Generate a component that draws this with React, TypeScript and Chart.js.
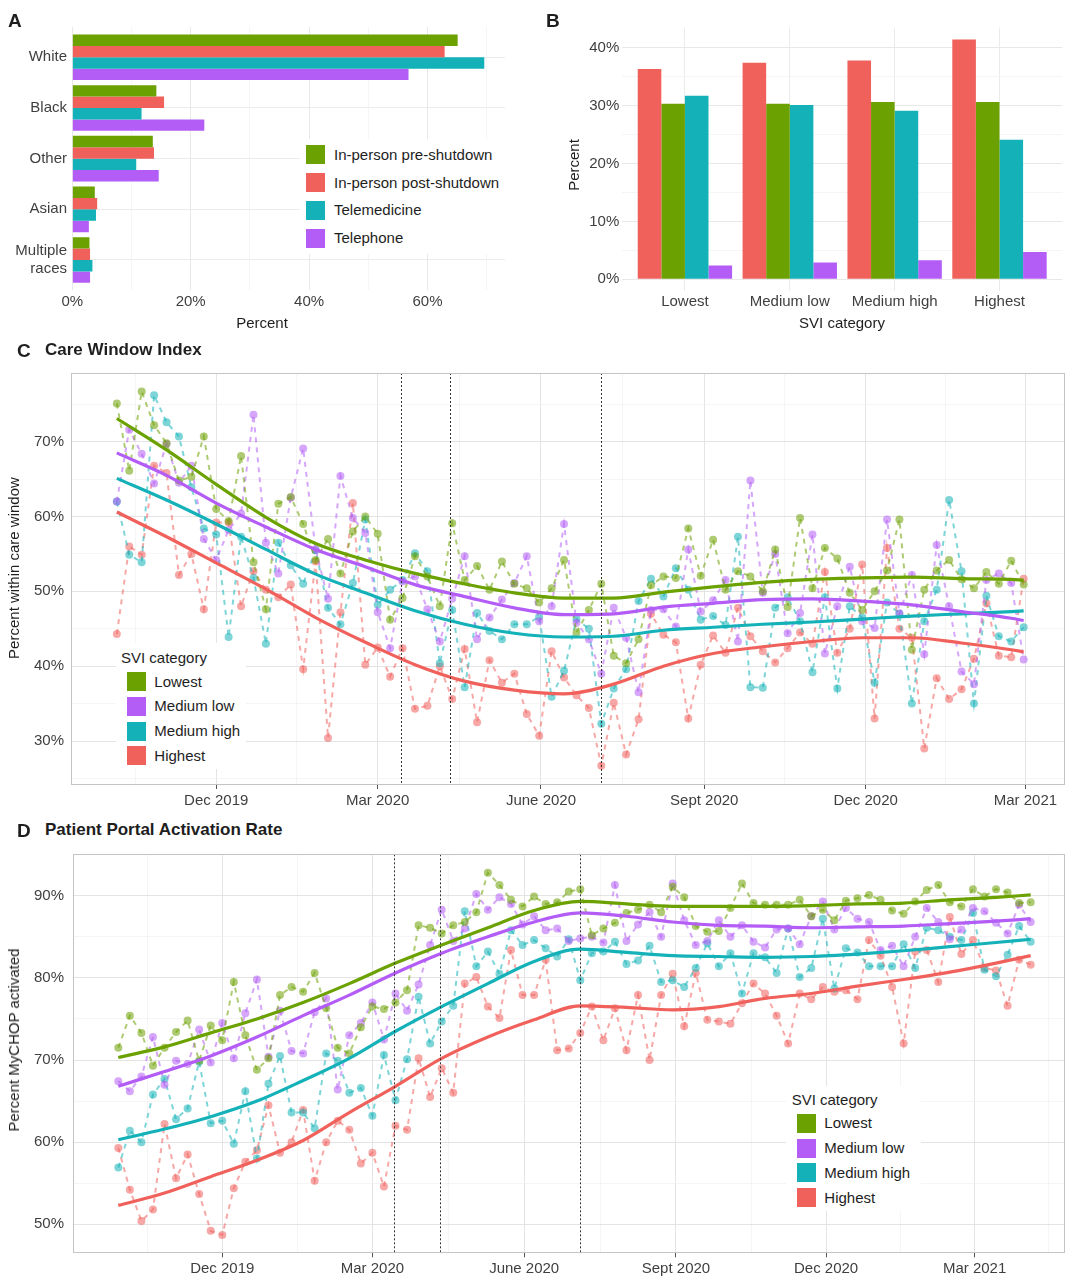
import React, { useEffect, useRef } from 'react';
import { Chart, registerables } from 'chart.js';

Chart.register(...registerables);

const FONT = '"Liberation Sans", Arial, Helvetica, sans-serif';
Chart.defaults.font.family = FONT;
const TICK_COLOR = '#3f3f3f';
const TEXT_COLOR = '#1e1e1e';
const GREEN = '#6BA100';
const RED = '#F0615C';
const TEAL = '#14B2B8';
const PURPLE = '#B35CF6';

// ---------------- Panel A: race by visit type ----------------
const raceCategories: (string | string[])[] = ['White', 'Black', 'Other', 'Asian', ['Multiple', 'races']];
const raceInPersonPre = [65.1, 14.2, 13.6, 3.8, 2.9];
const raceInPersonPost = [62.9, 15.5, 13.8, 4.2, 3.0];
const raceTelemedicine = [69.6, 11.7, 10.8, 4.0, 3.4];
const raceTelephone = [56.8, 22.3, 14.6, 2.8, 3.0];
const percentTicksA = [0, 10, 20, 30, 40, 50, 60, 70];

// ---------------- Panel B: SVI category by visit type ----------------
const sviCategories = ['Lowest', 'Medium low', 'Medium high', 'Highest'];
const sviInPersonPost = [36.3, 37.4, 37.8, 41.4];
const sviInPersonPre = [30.3, 30.3, 30.6, 30.6];
const sviTelemedicine = [31.7, 30.1, 29.1, 24.1];
const sviTelephone = [2.4, 2.9, 3.3, 4.7];
const percentTicksB = [0, 5, 10, 15, 20, 25, 30, 35, 40];

// ---------------- Time axis ----------------
const monthTickDates = ['2019-12-01', '2020-03-01', '2020-06-01', '2020-09-01', '2020-12-01', '2021-03-01'];
const monthTickLabels = ['Dec 2019', 'Mar 2020', 'June 2020', 'Sept 2020', 'Dec 2020', 'Mar 2021'];
const eventDates = ['2020-03-14', '2020-04-11', '2020-07-05'];
const careWindowStart = '2019-10-06';
const portalStart = '2019-09-29';

// ---------------- Panel C: Care Window Index (weekly) ----------------
const careLowest = [75.1, 66.1, 76.7, 72.2, 69.8, 64.8, 65.3, 70.7, 61.0, 59.4,
  68.1, 53.9, 47.6, 61.7, 62.6, 59.0, 54.2, 57.0, 52.4, 58.0,
  60.0, 57.7, 46.2, 49.1, 54.7, 52.0, 48.0, 59.1, 51.5, 53.4,
  50.2, 54.0, 51.0, 50.4, 48.5, 50.4, 54.2, 44.5, 47.5, 51.0,
  41.4, 40.4, 43.6, 50.8, 52.0, 51.8, 58.4, 52.1, 56.9, 50.2,
  52.7, 52.0, 50.0, 55.6, 47.9, 59.8, 50.4, 55.8, 54.4, 49.8,
  47.5, 50.0, 52.8, 59.6, 42.2, 50.2, 52.8, 54.2, 51.6, 50.4,
  52.6, 51.0, 54.1, 50.9];
const careMediumLow = [62.0, 71.6, 68.4, 64.4, 69.7, 64.5, 66.8, 57.0, 54.2, 58.2,
  60.4, 73.6, 56.5, 52.4, 62.5, 69.1, 55.6, 49.0, 65.4, 59.8,
  57.8, 47.2, 42.4, 51.3, 52.0, 47.6, 43.3, 49.0, 54.7, 43.6,
  46.5, 48.9, 51.1, 54.7, 46.0, 48.0, 59.0, 45.8, 43.6, 39.0,
  47.8, 43.8, 36.5, 47.5, 47.6, 45.3, 55.6, 47.3, 48.8, 51.5,
  43.3, 64.8, 49.8, 55.0, 44.4, 47.1, 57.6, 41.7, 48.0, 53.3,
  46.0, 45.1, 59.6, 47.0, 52.2, 41.6, 56.2, 48.0, 39.3, 37.6,
  51.5, 52.4, 51.1, 40.9];
const careMediumHigh = [62.0, 54.9, 53.9, 76.2, 72.6, 70.7, 63.9, 58.4, 57.6, 43.9,
  57.3, 51.8, 43.0, 56.5, 53.5, 51.0, 55.5, 47.8, 45.6, 51.1,
  59.6, 48.2, 50.2, 51.5, 55.1, 52.7, 40.4, 47.5, 37.2, 47.1,
  44.7, 43.6, 45.6, 45.6, 46.6, 35.9, 39.4, 46.3, 45.0, 32.3,
  37.0, 39.6, 48.7, 51.7, 49.3, 53.1, 50.2, 46.2, 46.7, 45.5,
  57.3, 37.2, 37.1, 47.8, 49.2, 46.0, 39.2, 49.2, 37.0, 48.0,
  46.5, 37.8, 48.5, 47.0, 35.0, 46.0, 50.2, 62.2, 52.7, 35.0,
  49.4, 44.0, 43.3, 45.2];
const careHighest = [44.3, 56.0, 54.9, 66.8, 65.8, 52.2, 55.0, 47.6, 59.2, 59.2,
  48.0, 52.7, 50.2, 49.2, 50.9, 39.6, 54.0, 30.4, 47.2, 61.8,
  40.2, 42.5, 38.6, 42.4, 34.3, 34.7, 40.0, 35.6, 42.3, 32.5,
  40.8, 37.8, 39.0, 33.6, 30.7, 42.0, 38.5, 36.1, 34.4, 26.7,
  35.1, 28.2, 32.9, 47.0, 44.2, 43.2, 33.0, 40.2, 44.1, 41.8,
  47.8, 44.0, 42.0, 40.5, 42.4, 44.5, 43.0, 52.6, 41.8, 45.0,
  53.6, 33.0, 55.8, 45.0, 43.8, 29.0, 38.4, 35.6, 36.9, 41.0,
  48.4, 41.4, 41.2, 51.7];
// smoothed trend, read at weeks 0,4,8,...,72 and the last week (73)
const careSmoothWeeks = [0, 4, 8, 12, 16, 20, 24, 28, 32, 36, 40, 44, 48, 52, 56, 60, 64, 68, 72, 73];
const careSmoothLowest = [73.1, 68.9, 64.3, 59.9, 56.4, 54.2, 52.4, 51.0, 49.8, 49.1, 49.1, 49.9, 50.6, 51.2, 51.6, 51.8, 51.9, 51.7, 51.6, 51.5];
const careSmoothMediumLow = [68.5, 65.5, 61.8, 58.6, 55.6, 53.3, 50.9, 49.3, 47.8, 46.9, 47.0, 47.9, 48.4, 48.9, 49.0, 48.7, 48.2, 47.3, 46.4, 46.1];
const careSmoothMediumHigh = [65.1, 62.2, 59.0, 55.6, 52.3, 49.8, 47.4, 45.6, 44.4, 43.9, 44.0, 44.8, 45.2, 45.6, 45.9, 46.3, 46.7, 47.0, 47.3, 47.4];
const careSmoothHighest = [60.6, 57.3, 53.8, 50.3, 46.5, 43.2, 40.2, 38.0, 36.8, 36.3, 37.6, 40.0, 41.7, 42.6, 43.3, 43.8, 43.8, 43.1, 42.2, 41.9];

// ---------------- Panel D: Patient Portal Activation Rate (weekly) ----------------
const portalLowest = [71.5, 75.4, 73.3, 69.3, 71.5, 73.4, 74.8, 69.9, 74.2, 72.4,
  79.5, 73.0, 68.8, 70.2, 77.9, 78.9, 78.3, 80.6, 76.3, 71.5,
  70.8, 74.0, 76.5, 76.2, 77.0, 78.5, 86.4, 86.1, 85.4, 86.4,
  86.8, 88.0, 92.8, 91.3, 89.5, 88.7, 89.9, 89.0, 89.2, 90.5,
  90.8, 85.2, 86.0, 86.7, 87.9, 88.3, 88.9, 88.0, 91.1, 89.8,
  86.3, 85.6, 85.7, 88.5, 91.5, 89.1, 88.9, 88.9, 88.9, 89.5,
  87.5, 88.3, 87.0, 89.4, 89.7, 90.1, 89.5, 88.2, 87.8, 89.3,
  90.7, 91.3, 89.2, 88.7, 90.8, 89.9, 90.8, 90.4, 89.1, 89.2];
const portalMediumLow = [67.4, 66.2, 68.0, 72.8, 67.0, 69.9, 69.5, 73.7, 69.7, 74.5,
  70.2, 75.7, 79.8, 70.4, 76.0, 71.1, 70.8, 75.8, 77.5, 66.4,
  73.0, 74.5, 77.0, 72.5, 78.1, 76.0, 79.2, 84.0, 88.3, 84.5,
  86.0, 90.2, 88.3, 89.8, 89.0, 86.5, 87.5, 85.8, 86.0, 84.5,
  84.8, 85.0, 84.3, 91.3, 84.5, 86.5, 88.0, 85.0, 91.5, 87.0,
  84.0, 84.5, 87.0, 85.0, 86.4, 84.4, 83.7, 85.9, 86.0, 84.1,
  87.5, 89.3, 85.9, 88.5, 87.2, 86.8, 83.4, 83.9, 81.4, 85.0,
  88.5, 86.8, 84.7, 85.9, 88.5, 88.1, 86.7, 85.4, 88.9, 86.8];
const portalMediumHigh = [56.9, 61.4, 60.0, 65.8, 67.7, 62.8, 64.1, 69.8, 62.3, 62.6,
  59.8, 66.2, 58.0, 67.1, 70.5, 63.6, 63.6, 61.7, 70.8, 69.9,
  66.0, 66.6, 63.2, 70.6, 65.1, 70.1, 77.7, 72.0, 74.7, 76.6,
  88.1, 81.4, 83.2, 80.5, 85.8, 84.0, 84.6, 83.6, 82.6, 84.7,
  79.7, 83.0, 83.2, 84.4, 81.7, 82.1, 83.9, 79.5, 79.7, 78.9,
  81.2, 84.2, 81.4, 83.0, 78.1, 83.0, 82.5, 80.6, 86.0, 80.1,
  81.2, 87.2, 78.7, 83.6, 83.1, 81.4, 81.4, 81.4, 84.1, 81.2,
  86.1, 85.8, 85.0, 84.6, 87.9, 81.0, 80.2, 82.8, 86.3, 84.4];
const portalHighest = [59.3, 54.2, 50.4, 51.8, 62.2, 55.6, 58.5, 53.7, 49.2, 48.7,
  54.4, 57.6, 59.0, 64.5, 58.7, 60.0, 63.9, 55.3, 60.0, 62.6,
  61.5, 57.4, 58.7, 54.6, 62.0, 61.5, 70.2, 65.5, 69.0, 66.0,
  79.3, 80.1, 76.5, 75.1, 83.4, 77.9, 77.9, 82.2, 71.2, 71.4,
  73.3, 76.5, 72.4, 76.3, 71.2, 77.9, 70.0, 77.9, 80.5, 74.1,
  80.6, 74.9, 74.7, 74.4, 76.9, 79.3, 78.1, 75.4, 72.0, 78.1,
  77.4, 78.9, 78.3, 78.5, 77.4, 84.6, 82.7, 78.9, 72.0, 83.2,
  83.4, 79.5, 87.4, 82.9, 84.6, 81.2, 80.9, 76.6, 82.2, 81.6];
const portalSmoothWeeks = [0, 4, 8, 12, 16, 20, 24, 28, 32, 36, 40, 44, 48, 52, 56, 60, 64, 68, 72, 76, 79];
const portalSmoothLowest = [70.3, 71.6, 73.3, 75.0, 77.0, 79.3, 81.8, 84.0, 86.1, 88.2, 89.3, 89.0, 88.7, 88.7, 88.7, 88.8, 89.0, 89.1, 89.5, 89.8, 90.1];
const portalSmoothMediumLow = [66.8, 68.6, 70.5, 72.8, 75.4, 77.9, 80.6, 83.0, 85.0, 86.8, 87.9, 87.5, 86.8, 86.4, 86.3, 86.1, 86.2, 86.3, 86.6, 86.9, 87.2];
const portalSmoothMediumHigh = [60.3, 61.6, 63.1, 65.0, 67.5, 70.2, 73.5, 76.5, 79.3, 82.0, 83.5, 83.1, 82.7, 82.6, 82.5, 82.6, 82.9, 83.3, 83.8, 84.3, 84.7];
const portalSmoothHighest = [52.3, 53.8, 55.8, 57.8, 60.2, 63.6, 66.8, 70.2, 72.8, 74.9, 76.6, 76.4, 76.1, 76.5, 77.5, 78.1, 79.0, 79.8, 80.7, 81.8, 82.7];

const sviLegend = [
  { label: 'Lowest', color: GREEN },
  { label: 'Medium low', color: PURPLE },
  { label: 'Medium high', color: TEAL },
  { label: 'Highest', color: RED },
];
const visitLegend = [
  { label: 'In-person pre-shutdown', color: GREEN },
  { label: 'In-person post-shutdown', color: RED },
  { label: 'Telemedicine', color: TEAL },
  { label: 'Telephone', color: PURPLE },
];

// ---------------- helpers ----------------
const EPOCH = Date.UTC(2019, 8, 1);
const dayOf = (iso: string) => Math.round((Date.parse(iso + 'T00:00:00Z') - EPOCH) / 86400000);
const weekly = (startIso: string, n: number) => Array.from({ length: n }, (_, i) => dayOf(startIso) + 7 * i);

function alpha(hex: string, a: number) {
  const n = parseInt(hex.slice(1), 16);
  return `rgba(${(n >> 16) & 255},${(n >> 8) & 255},${n & 255},${a})`;
}

const tickFont = { family: FONT, size: 15 };

// fix an axis box size and drop the automatic label overflow padding
const fixWidth = (w: number) => (s: any) => { s.width = w; s.paddingTop = 0; s.paddingBottom = 0; s.paddingLeft = 0; s.paddingRight = 0; };
const fixHeight = (h: number) => (s: any) => { s.height = h; s.paddingTop = 0; s.paddingBottom = 0; s.paddingLeft = 0; s.paddingRight = 0; };

function panelDecor(eventDays: number[] | null, border: boolean) {
  return {
    id: 'panelDecor',
    afterDatasetsDraw(chart: any) {
      if (!eventDays) return;
      const { ctx, chartArea, scales } = chart;
      ctx.save();
      ctx.strokeStyle = '#333333';
      ctx.lineWidth = 1;
      ctx.setLineDash([2, 2]);
      for (const d of eventDays) {
        const x = Math.round(scales.x.getPixelForValue(d)) + 0.5;
        ctx.beginPath();
        ctx.moveTo(x, chartArea.top);
        ctx.lineTo(x, chartArea.bottom);
        ctx.stroke();
      }
      ctx.restore();
    },
    afterDraw(chart: any) {
      if (!border) return;
      const { ctx, chartArea: a } = chart;
      ctx.save();
      ctx.strokeStyle = '#c4c4c4';
      ctx.lineWidth = 1;
      ctx.strokeRect(Math.round(a.left) + 0.5, Math.round(a.top) + 0.5, Math.round(a.right - a.left) - 1, Math.round(a.bottom - a.top) - 1);
      ctx.restore();
    },
  };
}

// ---------------- chart configs ----------------
function configA(): any {
  const pos = raceCategories.map((_, i) => i + 1);
  const sets = [raceInPersonPre, raceInPersonPost, raceTelemedicine, raceTelephone];
  return {
    type: 'bar',
    data: {
      datasets: visitLegend.map((l, k) => ({
        label: l.label,
        data: pos.map((p, i) => ({ x: sets[k][i], y: p })),
        backgroundColor: l.color,
        borderWidth: 0,
        barPercentage: 1,
        categoryPercentage: 0.9,
      })),
    },
    options: {
      indexAxis: 'y',
      animation: false,
      responsive: true,
      maintainAspectRatio: false,
      events: [],
      layout: { padding: { top: 6.9, right: 25, left: 0, bottom: 0 } },
      plugins: { legend: { display: false }, tooltip: { enabled: false } },
      scales: {
        y: {
          type: 'linear', min: 0.4, max: 5.6, reverse: true, offset: false,
          afterBuildTicks: (s: any) => { s.ticks = pos.map((v) => ({ value: v })); },
          afterFit: fixWidth(72.3),
          ticks: { callback: (v: number) => raceCategories[v - 1], color: TICK_COLOR, font: tickFont, padding: 5.3, autoSkip: false },
          grid: { color: '#ebebeb', lineWidth: 1, drawTicks: false, offset: false },
          border: { display: false },
        },
        x: {
          type: 'linear', min: 0, max: 73.1,
          afterBuildTicks: (s: any) => { s.ticks = percentTicksA.map((v) => ({ value: v })); },
          afterFit: fixHeight(49.6),
          ticks: { callback: (v: number) => (v % 20 === 0 ? v + '%' : ''), color: TICK_COLOR, font: tickFont, padding: 2.6, maxRotation: 0, autoSkip: false },
          grid: {
            color: (c: any) => (c.tick && c.tick.value % 20 === 0 ? '#e8e8e8' : '#f1f1f1'),
            lineWidth: (c: any) => (c.tick && c.tick.value % 20 === 0 ? 1 : 0.7),
            drawTicks: false,
          },
          border: { display: false },
        },
      },
    },
  };
}

function configB(): any {
  const pos = sviCategories.map((_, i) => i + 1);
  const sets = [
    { label: 'In-person post-shutdown', vals: sviInPersonPost, color: RED },
    { label: 'In-person pre-shutdown', vals: sviInPersonPre, color: GREEN },
    { label: 'Telemedicine', vals: sviTelemedicine, color: TEAL },
    { label: 'Telephone', vals: sviTelephone, color: PURPLE },
  ];
  return {
    type: 'bar',
    data: {
      datasets: sets.map((s) => ({
        label: s.label,
        data: pos.map((p, i) => ({ x: p, y: s.vals[i] })),
        backgroundColor: s.color,
        borderWidth: 0,
        barPercentage: 1,
        categoryPercentage: 0.9,
      })),
    },
    options: {
      animation: false,
      responsive: true,
      maintainAspectRatio: false,
      events: [],
      layout: { padding: { top: 7.6, right: 6.6, left: 0, bottom: 0 } },
      plugins: { legend: { display: false }, tooltip: { enabled: false } },
      scales: {
        x: {
          type: 'linear', min: 0.4, max: 4.6, offset: false,
          afterBuildTicks: (s: any) => { s.ticks = pos.map((v) => ({ value: v })); },
          afterFit: fixHeight(48.7),
          ticks: { callback: (v: number) => sviCategories[v - 1], color: TICK_COLOR, font: tickFont, padding: 1.4, maxRotation: 0, autoSkip: false },
          grid: { color: '#ebebeb', lineWidth: 1, drawTicks: false, offset: false },
          border: { display: false },
        },
        y: {
          type: 'linear', min: -2.07, max: 43.47,
          afterBuildTicks: (s: any) => { s.ticks = percentTicksB.map((v) => ({ value: v })); },
          afterFit: fixWidth(92),
          ticks: { callback: (v: number) => (v % 10 === 0 ? v + '%' : ''), color: TICK_COLOR, font: tickFont, padding: 2.7, autoSkip: false },
          grid: {
            color: (c: any) => (c.tick && c.tick.value % 10 === 0 ? '#e8e8e8' : '#f1f1f1'),
            lineWidth: (c: any) => (c.tick && c.tick.value % 10 === 0 ? 1 : 0.7),
            drawTicks: false,
          },
          border: { display: false },
        },
      },
    },
  };
}

interface TimeSeries { vals: number[]; smooth: number[]; color: string; }

function configTime(p: {
  start: string; series: TimeSeries[]; smoothWeeks: number[];
  xmin: number; xmax: number; ymin: number; ymax: number;
  padTop: number; yWidth: number; xHeight: number; yPad: number; xPad: number;
}): any {
  const n = p.series[0].vals.length;
  const days = weekly(p.start, n);
  const major = monthTickDates.map(dayOf);
  const minor: number[] = [];
  for (let i = 0; i < major.length - 1; i++) minor.push((major[i] + major[i + 1]) / 2);
  minor.push(major[0] - (major[1] - major[0]) / 2);
  minor.push(major[major.length - 1] + (major[major.length - 1] - major[major.length - 2]) / 2);
  const allX = [...major, ...minor].filter((v) => v >= p.xmin && v <= p.xmax).sort((a, b) => a - b);
  const isMajorX = (v: number) => major.indexOf(v) >= 0;
  const yTicks: number[] = [];
  for (let v = Math.ceil(p.ymin / 5) * 5; v <= p.ymax; v += 5) yTicks.push(v);
  const isMajorY = (v: number) => v % 10 === 0;

  const smoothSets = p.series.map((s) => ({
    type: 'line',
    data: p.smoothWeeks.map((w, j) => ({ x: days[w], y: s.smooth[j] })),
    borderColor: s.color,
    borderWidth: 3.2,
    pointRadius: 0,
    cubicInterpolationMode: 'monotone',
    fill: false,
    order: 0,
  }));
  const rawSets = p.series.map((s) => ({
    type: 'line',
    data: days.map((d, i) => ({ x: d, y: s.vals[i] })),
    borderColor: alpha(s.color, 0.55),
    borderWidth: 2,
    borderDash: [5, 5],
    pointRadius: 4,
    pointBackgroundColor: alpha(s.color, 0.55),
    pointBorderWidth: 0,
    tension: 0,
    fill: false,
    order: 1,
  }));

  return {
    type: 'line',
    data: { datasets: [...smoothSets, ...rawSets] },
    options: {
      animation: false,
      responsive: true,
      maintainAspectRatio: false,
      events: [],
      layout: { padding: { top: p.padTop, right: 1, left: 0, bottom: 0 } },
      plugins: { legend: { display: false }, tooltip: { enabled: false } },
      scales: {
        x: {
          type: 'linear', min: p.xmin, max: p.xmax,
          afterBuildTicks: (s: any) => { s.ticks = allX.map((v) => ({ value: v })); },
          afterFit: fixHeight(p.xHeight),
          ticks: {
            callback: (v: number) => { const k = major.indexOf(v); return k >= 0 ? monthTickLabels[k] : ''; },
            color: TICK_COLOR, font: tickFont, padding: p.xPad, maxRotation: 0, minRotation: 0, autoSkip: false,
          },
          grid: {
            color: (c: any) => (c.tick && isMajorX(c.tick.value) ? '#e4e4e4' : '#f0f0f0'),
            lineWidth: (c: any) => (c.tick && isMajorX(c.tick.value) ? 1 : 0.7),
            tickColor: (c: any) => (c.tick && isMajorX(c.tick.value) ? '#555555' : 'rgba(0,0,0,0)'),
            tickLength: 4,
            drawTicks: true,
          },
          border: { display: false },
        },
        y: {
          type: 'linear', min: p.ymin, max: p.ymax,
          afterBuildTicks: (s: any) => { s.ticks = yTicks.map((v) => ({ value: v })); },
          afterFit: fixWidth(p.yWidth),
          ticks: { callback: (v: number) => (isMajorY(v) ? v + '%' : ''), color: TICK_COLOR, font: tickFont, padding: p.yPad, autoSkip: false },
          grid: {
            color: (c: any) => (c.tick && isMajorY(c.tick.value) ? '#e4e4e4' : '#f0f0f0'),
            lineWidth: (c: any) => (c.tick && isMajorY(c.tick.value) ? 1 : 0.7),
            drawTicks: false,
          },
          border: { display: false },
        },
      },
    },
    plugins: [panelDecor(eventDates.map(dayOf), true)],
  };
}

function configC(): any {
  return configTime({
    start: careWindowStart,
    series: [
      { vals: careLowest, smooth: careSmoothLowest, color: GREEN },
      { vals: careMediumLow, smooth: careSmoothMediumLow, color: PURPLE },
      { vals: careMediumHigh, smooth: careSmoothMediumHigh, color: TEAL },
      { vals: careHighest, smooth: careSmoothHighest, color: RED },
    ],
    smoothWeeks: careSmoothWeeks,
    xmin: 9.0, xmax: 569.3, ymin: 24.12, ymax: 79.18,
    padTop: 8, yWidth: 70.7, xHeight: 30, yPad: 6.7, xPad: 3,
  });
}

function configD(): any {
  return configTime({
    start: portalStart,
    series: [
      { vals: portalLowest, smooth: portalSmoothLowest, color: GREEN },
      { vals: portalMediumLow, smooth: portalSmoothMediumLow, color: PURPLE },
      { vals: portalMediumHigh, smooth: portalSmoothMediumHigh, color: TEAL },
      { vals: portalHighest, smooth: portalSmoothHighest, color: RED },
    ],
    smoothWeeks: portalSmoothWeeks,
    xmin: 0.35, xmax: 601.8, ymin: 46.47, ymax: 95.04,
    padTop: 9.3, yWidth: 72.7, xHeight: 25.7, yPad: 8.7, xPad: 2.7,
  });
}

// ---------------- components ----------------
function ChartBox(props: { left: number; top: number; width: number; height: number; make: () => any }) {
  const ref = useRef<HTMLCanvasElement | null>(null);
  useEffect(() => {
    if (!ref.current) return;
    const chart = new Chart(ref.current, props.make());
    return () => chart.destroy();
  }, []);
  return (
    <div style={{ position: 'absolute', left: props.left, top: props.top, width: props.width, height: props.height }}>
      <canvas ref={ref} />
    </div>
  );
}

function Text(props: { x: number; y: number; children: React.ReactNode; size?: number; bold?: boolean; rotate?: boolean; center?: boolean; color?: string }) {
  const size = props.size || 15;
  const style: React.CSSProperties = {
    position: 'absolute', left: props.x, top: props.y, fontSize: size, lineHeight: `${Math.round(size * 1.2)}px`,
    fontWeight: props.bold ? 700 : 400, color: props.color || TEXT_COLOR, whiteSpace: 'nowrap',
    transform: props.rotate ? 'translate(-50%, -50%) rotate(-90deg)' : props.center ? 'translate(-50%, -50%)' : 'translate(0, -50%)',
  };
  return <div style={style}>{props.children}</div>;
}

function Legend(props: { items: { label: string; color: string }[]; swLeft: number; txtLeft: number; centers: number[]; size: number; box: [number, number, number, number]; title?: string; titleY?: number; titleX?: number }) {
  const [bl, bt, bw, bh] = props.box;
  return (
    <>
      <div style={{ position: 'absolute', left: bl, top: bt, width: bw, height: bh, background: '#ffffff' }} />
      {props.title ? <Text x={props.titleX || 0} y={props.titleY || 0}>{props.title}</Text> : null}
      {props.items.map((it, i) => (
        <React.Fragment key={it.label}>
          <div style={{ position: 'absolute', left: props.swLeft, top: props.centers[i] - props.size / 2, width: props.size, height: props.size, background: it.color }} />
          <Text x={props.txtLeft} y={props.centers[i]}>{it.label}</Text>
        </React.Fragment>
      ))}
    </>
  );
}

export default function App() {
  return (
    <div style={{ position: 'absolute', left: 0, top: 0, width: 1069, height: 1279, overflow: 'hidden', background: '#ffffff', fontFamily: FONT }}>
      {/* Panel A */}
      <ChartBox left={0} top={20} width={530} height={320} make={configA} />
      <Text x={8} y={20} size={19} bold>A</Text>
      <Text x={262} y={323.3} center>Percent</Text>
      <Legend items={visitLegend} swLeft={306} txtLeft={334} centers={[154.5, 182.7, 210, 238]} size={19} box={[300, 139, 208, 115]} />

      {/* Panel B */}
      <ChartBox left={530} top={20} width={539} height={320} make={configB} />
      <Text x={546} y={20} size={19} bold>B</Text>
      <Text x={574} y={165} rotate>Percent</Text>
      <Text x={842} y={323.3} center>SVI category</Text>

      {/* Panel C */}
      <ChartBox left={0} top={365} width={1069} height={450} make={configC} />
      <Text x={17} y={350} size={19} bold>C</Text>
      <Text x={45} y={350} size={17} bold>Care Window Index</Text>
      <Text x={14} y={568} rotate>Percent within care window</Text>
      <Legend items={sviLegend} swLeft={127} txtLeft={154.3} centers={[681.7, 706.4, 731.1, 755.8]} size={19} box={[116, 643, 130, 126]} title="SVI category" titleX={121} titleY={657.7} />

      {/* Panel D */}
      <ChartBox left={0} top={845} width={1069} height={434} make={configD} />
      <Text x={17} y={830} size={19} bold>D</Text>
      <Text x={45} y={830} size={17} bold>Patient Portal Activation Rate</Text>
      <Text x={13.5} y={1039.5} rotate>Percent MyCHOP activated</Text>
      <Legend items={sviLegend} swLeft={796.7} txtLeft={824.3} centers={[1123.3, 1148.1, 1172.9, 1197.7]} size={19} box={[786, 1086, 135, 125]} title="SVI category" titleX={791.7} titleY={1100} />
    </div>
  );
}
